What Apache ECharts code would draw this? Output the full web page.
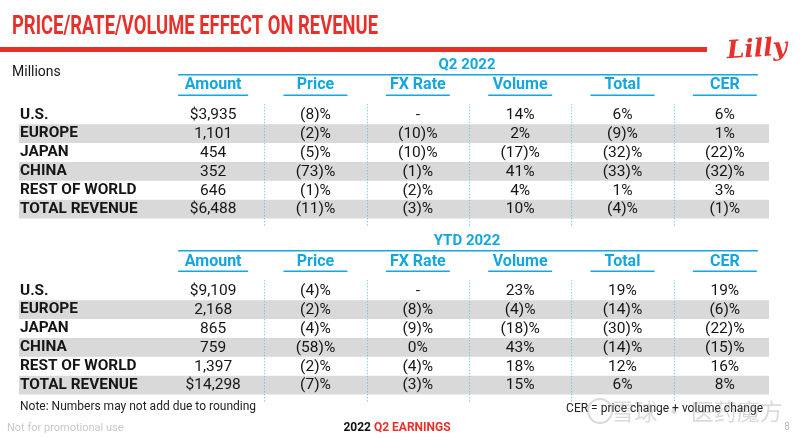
<!DOCTYPE html>
<html><head><meta charset="utf-8">
<script src="https://cdn.jsdelivr.net/npm/echarts@6/dist/echarts.min.js"></script>
<style>html,body{margin:0;padding:0;background:#fff}#c{width:800px;height:438px}</style>
</head><body><div id="c"></div>
<script>
// ---- data ----
const regions = ['U.S.', 'EUROPE', 'JAPAN', 'CHINA', 'REST OF WORLD', 'TOTAL REVENUE'];
const columns = ['Amount', 'Price', 'FX Rate', 'Volume', 'Total', 'CER'];
const sections = ['Q2 2022', 'YTD 2022'];

const q2Amount = [3935, 1101, 454, 352, 646, 6488];
const q2Price  = [-8, -2, -5, -73, -1, -11];
const q2Fx     = [null, -10, -10, -1, -2, -3];
const q2Volume = [14, 2, -17, 41, 4, 10];
const q2Total  = [6, -9, -32, -33, 1, -4];
const q2Cer    = [6, 1, -22, -32, 3, -1];

const ytdAmount = [9109, 2168, 865, 759, 1397, 14298];
const ytdPrice  = [-4, -2, -4, -58, -2, -7];
const ytdFx     = [null, -8, -9, 0, -4, -3];
const ytdVolume = [23, -4, -18, 43, 18, 15];
const ytdTotal  = [19, -14, -30, -14, 12, 6];
const ytdCer    = [19, -6, -22, -15, 16, 8];

// ---- formatting ----
function grp(n) { return String(n).replace(/\B(?=(\d{3})+(?!\d))/g, ','); }
function fmtAmt(v, i, n) { const s = grp(v); return (i === 0 || i === n - 1) ? '$' + s : s; }
function fmtPct(v) { if (v === null) return '-'; return v < 0 ? '(' + (-v) + ')%' : v + '%'; }
function buildCells(a, p, fx, vo, t, c) {
  return regions.map((_, i) => [fmtAmt(a[i], i, a.length), fmtPct(p[i]), fmtPct(fx[i]), fmtPct(vo[i]), fmtPct(t[i]), fmtPct(c[i])]);
}
const tables = [
  buildCells(q2Amount, q2Price, q2Fx, q2Volume, q2Total, q2Cer),
  buildCells(ytdAmount, ytdPrice, ytdFx, ytdVolume, ytdTotal, ytdCer)
];

// ---- styles ----
const RED = '#e8302a', CYAN = '#14a6e0', BAND = '#d9d9d9', INK = '#161616', DOT = '#4fc0ec';
const FONT = 'Roboto, "Noto Sans", sans-serif';

function measure(text, font) {
  const cv = document.createElement('canvas').getContext('2d');
  cv.font = font; return cv.measureText(text).width;
}
const titleText = 'PRICE/RATE/VOLUME EFFECT ON REVENUE';
const titleFont = 'bold 25px Roboto';
const titleScale = 366 / measure(titleText, titleFont);

const chart = echarts.init(document.getElementById('c'), null, { renderer: 'canvas' });

const gridTops = [105.3, 281.3];
const rowH = 18.87;

const grids = gridTops.map(t => ({ left: 162, width: 614, top: t, height: rowH * 6 }));
const xAxes = gridTops.map((t, g) => ({
  type: 'category', gridIndex: g, data: columns, position: 'top', z: 5,
  axisLine: { show: false }, axisTick: { show: false }, splitLine: { show: false },
  axisLabel: { interval: 0, color: CYAN, fontWeight: 'bold', fontSize: 16, fontFamily: FONT, margin: g === 0 ? 20 : 19.5, verticalAlign: 'middle' }
}));
const yAxes = gridTops.map((t, g) => ({
  type: 'category', gridIndex: g, data: regions, inverse: true, z: 5,
  axisLine: { show: false }, axisTick: { show: false }, splitLine: { show: false },
  axisLabel: { interval: 0, align: 'left', margin: 142, fontWeight: 'bold', fontSize: 15.4, color: INK, fontFamily: FONT }
}));

function decorRenderer(g) {
  return function (params, api) {
    const c0 = api.coord([0, 0]);
    const sz = api.size([1, 1]);
    const bw = sz[0], bh = sz[1];
    const top = c0[1] - bh / 2, bottom = top + regions.length * bh;
    const ch = [];
    for (let r = 1; r < regions.length; r += 2) {
      const y = api.coord([0, r])[1] - bh / 2;
      ch.push({ type: 'rect', shape: { x: 19, y: y, width: 750, height: bh }, style: { fill: BAND } });
    }
    for (let c = 0; c < columns.length - 1; c++) {
      const x = Math.round(api.coord([c, 0])[0] + bw / 2) + 0.5;
      ch.push({ type: 'line', shape: { x1: x, y1: top - 1, x2: x, y2: bottom + 7 }, style: { stroke: DOT, lineWidth: 1, lineDash: [1, 2] } });
    }
    for (let c = 0; c < columns.length; c++) {
      const cx = api.coord([c, 0])[0];
      const hw = c === 0 ? 35 : 32;
      ch.push({ type: 'line', shape: { x1: cx - hw, y1: top - 10, x2: cx + hw, y2: top - 10 }, style: { stroke: CYAN, lineWidth: 1.5 } });
    }
    const xl = api.coord([0, 0])[0] - 35, xr = api.coord([columns.length - 1, 0])[0] + 33;
    ch.push({ type: 'line', shape: { x1: xl, y1: top - 30.5, x2: xr, y2: top - 30.5 }, style: { stroke: CYAN, lineWidth: 1.5 } });
    ch.push({ type: 'text', x: (xl + xr) / 2 - 1, y: top - 40, style: { text: sections[g], fill: CYAN, font: 'bold 15px Roboto', align: 'center', verticalAlign: 'middle' } });
    return { type: 'group', children: ch };
  };
}

function textRenderer(g) {
  return function (params, api) {
    const ci = api.value(0), ri = api.value(1);
    const p = api.coord([ci, ri]);
    return { type: 'text', x: p[0], y: p[1] + 0.5, style: { text: tables[g][ri][ci], fill: INK, font: '15.5px Roboto', align: 'center', verticalAlign: 'middle' } };
  };
}

const series = [];
[0, 1].forEach(g => {
  series.push({ type: 'custom', xAxisIndex: g, yAxisIndex: g, clip: false, silent: true, z: 0, data: [[0, 0]], renderItem: decorRenderer(g) });
  const cellData = [];
  regions.forEach((_, r) => columns.forEach((_, c) => cellData.push([c, r])));
  series.push({ type: 'custom', xAxisIndex: g, yAxisIndex: g, clip: false, silent: true, z: 3, data: cellData, renderItem: textRenderer(g) });
});

chart.setOption({
  animation: false,
  backgroundColor: '#fff',
  grid: grids, xAxis: xAxes, yAxis: yAxes, series: series,
  graphic: [
    { type: 'text', x: 12, y: 28, scaleX: titleScale, style: { text: titleText, font: titleFont, fill: RED, verticalAlign: 'middle' } },
    { type: 'rect', shape: { x: 0, y: 47, width: 707, height: 5 }, style: { fill: RED } },
    { type: 'text', x: 757, y: 50, rotation: 0.06, style: { text: 'Lilly', font: 'italic bold 25px "DejaVu Serif"', fill: RED, align: 'center', verticalAlign: 'middle' } },
    { type: 'text', x: 12, y: 72, style: { text: 'Millions', font: '14px Roboto', fill: INK, verticalAlign: 'middle' } },
    { type: 'text', x: 20, y: 407, style: { text: 'Note: Numbers may not add due to rounding', font: '12px Roboto', fill: '#222', verticalAlign: 'middle' } },
    { type: 'text', x: 763, y: 409, style: { text: 'CER = price change + volume change', font: '12px Roboto', fill: '#222', align: 'right', verticalAlign: 'middle' } },
    { type: 'circle', shape: { cx: 600, cy: 411, r: 12 }, style: { fill: 'none', stroke: 'rgba(150,150,150,0.35)', lineWidth: 2 } },
    { type: 'text', x: 697, y: 411, style: { text: '雪球 · 医药魔方', font: '23px "Noto Sans CJK SC"', fill: 'rgba(150,150,150,0.35)', align: 'center', verticalAlign: 'middle' } },
    { type: 'text', x: 7, y: 428, style: { text: 'Not for promotional use', font: '11px Roboto', fill: '#c8c8c8', verticalAlign: 'middle' } },
    { type: 'text', x: 397, y: 428, style: { text: '{a|2022 }{b|Q2 EARNINGS}', align: 'center', verticalAlign: 'middle',
        rich: { a: { font: 'bold 12px Roboto', fill: '#111' }, b: { font: 'bold 12px Roboto', fill: RED } } } },
    { type: 'text', x: 787, y: 427, style: { text: '8', font: '10px Roboto', fill: '#bbb', align: 'center', verticalAlign: 'middle' } }
  ]
});
</script>
</body></html>
